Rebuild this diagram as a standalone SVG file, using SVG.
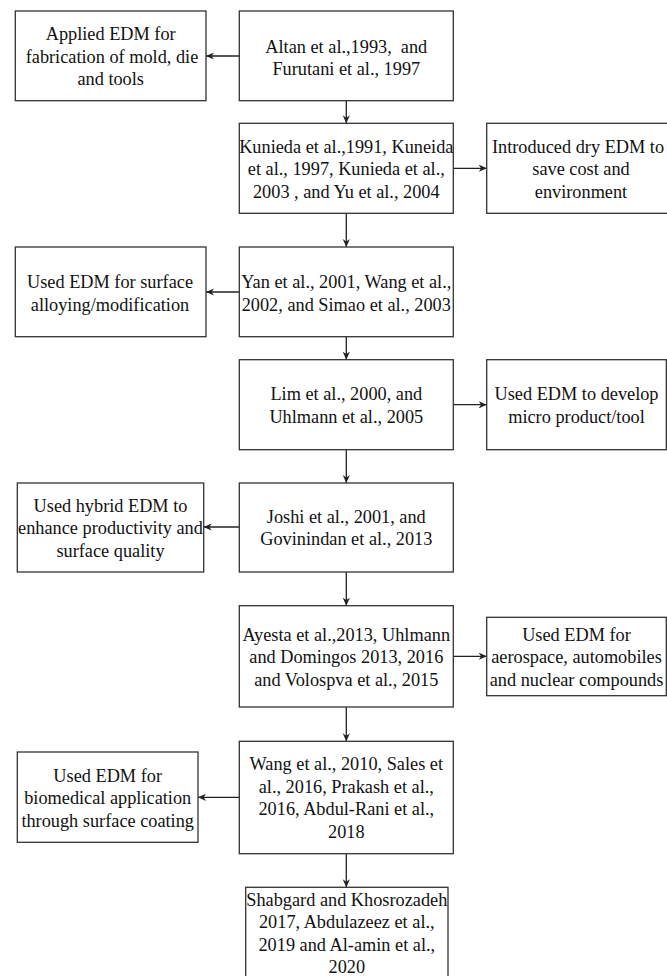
<svg xmlns="http://www.w3.org/2000/svg" width="667" height="976" viewBox="0 0 667 976">
<style>
.box{fill:#fff;stroke:#333;stroke-width:1.3}
.t{font-family:"Liberation Serif","Times New Roman",serif;font-size:18.3px;fill:#111;text-anchor:middle;white-space:pre}
.c{fill:none;stroke:#222;stroke-width:1.3;marker-end:url(#ah)}
</style>
<defs>
<marker id="ah" viewBox="0 0 10 10" refX="10" refY="5" markerWidth="8" markerHeight="8" markerUnits="userSpaceOnUse" orient="auto">
<path d="M0,0.5 L10,5 L0,9.5 L3,5 Z" fill="#222"/>
</marker>
</defs>
<rect width="667" height="976" fill="#fff"/>
<g id="connectors">
<line class="c" x1="239.3" y1="56" x2="206" y2="56"/>
<line class="c" x1="346.3" y1="100.7" x2="346.3" y2="123.3"/>
<line class="c" x1="453.3" y1="168.3" x2="486.7" y2="168.3"/>
<line class="c" x1="346.3" y1="213.3" x2="346.3" y2="247"/>
<line class="c" x1="239.3" y1="292" x2="206" y2="292"/>
<line class="c" x1="346.3" y1="336.7" x2="346.3" y2="359.7"/>
<line class="c" x1="453.3" y1="404.7" x2="486.7" y2="404.7"/>
<line class="c" x1="346.3" y1="449.7" x2="346.3" y2="483"/>
<line class="c" x1="239.3" y1="527" x2="203.7" y2="527"/>
<line class="c" x1="346.3" y1="572" x2="346.3" y2="605.7"/>
<line class="c" x1="453.3" y1="656.3" x2="486.7" y2="656.3"/>
<line class="c" x1="346.3" y1="707" x2="346.3" y2="741.3"/>
<line class="c" x1="239.3" y1="797.3" x2="198" y2="797.3"/>
<line class="c" x1="346.3" y1="853.7" x2="346.3" y2="887.3"/>
</g>
<g id="n-applied">
<rect class="box" x="15.3" y="11" width="190.7" height="89.7"/>
<text class="t" x="110.7" y="40">Applied EDM for</text>
<text class="t" x="112" y="62.5">fabrication of mold, die</text>
<text class="t" x="110.7" y="85">and tools</text>
</g>
<g id="n-altan">
<rect class="box" x="239.3" y="11" width="214" height="89.7"/>
<text class="t" x="346.3" y="52.5" xml:space="preserve">Altan et al.,1993,  and</text>
<text class="t" x="346.3" y="75">Furutani et al., 1997</text>
</g>
<g id="n-kunieda">
<rect class="box" x="239.3" y="123.3" width="214" height="90"/>
<text class="t" x="346.3" y="152.5">Kunieda et al.,1991, Kuneida</text>
<text class="t" x="346.3" y="175">et al., 1997, Kunieda et al.,</text>
<text class="t" x="346.3" y="197.5">2003 , and Yu et al., 2004</text>
</g>
<g id="n-dry">
<rect class="box" x="486.7" y="123.3" width="190" height="90"/>
<text class="t" x="578" y="152.5">Introduced dry EDM to</text>
<text class="t" x="581" y="175">save cost and</text>
<text class="t" x="581" y="197.5">environment</text>
</g>
<g id="n-yan">
<rect class="box" x="239.3" y="247" width="214" height="89.7"/>
<text class="t" x="346.3" y="288">Yan et al., 2001, Wang et al.,</text>
<text class="t" x="346.3" y="310.5">2002, and Simao et al., 2003</text>
</g>
<g id="n-surface">
<rect class="box" x="15.3" y="247" width="190.7" height="89.7"/>
<text class="t" x="110" y="288">Used EDM for surface</text>
<text class="t" x="110" y="310.5">alloying/modification</text>
</g>
<g id="n-lim">
<rect class="box" x="239.3" y="359.7" width="214" height="90"/>
<text class="t" x="346.3" y="400">Lim et al., 2000, and</text>
<text class="t" x="346.3" y="422.5">Uhlmann et al., 2005</text>
</g>
<g id="n-micro">
<rect class="box" x="486.7" y="359.7" width="179.6" height="90"/>
<text class="t" x="576.5" y="400">Used EDM to develop</text>
<text class="t" x="576.5" y="422.5">micro product/tool</text>
</g>
<g id="n-joshi">
<rect class="box" x="239.3" y="483" width="214" height="89"/>
<text class="t" x="346.3" y="522.5">Joshi et al., 2001, and</text>
<text class="t" x="346.3" y="545">Govinindan et al., 2013</text>
</g>
<g id="n-hybrid">
<rect class="box" x="17.3" y="483" width="186.4" height="89"/>
<text class="t" x="110.5" y="511.5">Used hybrid EDM to</text>
<text class="t" x="110.5" y="534">enhance productivity and</text>
<text class="t" x="110.5" y="556.5">surface quality</text>
</g>
<g id="n-ayesta">
<rect class="box" x="239.3" y="605.7" width="214" height="101.3"/>
<text class="t" x="346.3" y="640.5">Ayesta et al.,2013, Uhlmann</text>
<text class="t" x="346.3" y="663">and Domingos 2013, 2016</text>
<text class="t" x="346.3" y="685.5">and Volospva et al., 2015</text>
</g>
<g id="n-aero">
<rect class="box" x="486.7" y="617.3" width="179.6" height="78.4"/>
<text class="t" x="576.5" y="640.5">Used EDM for</text>
<text class="t" x="576.5" y="663">aerospace, automobiles</text>
<text class="t" x="576.5" y="685.5">and nuclear compounds</text>
</g>
<g id="n-wang">
<rect class="box" x="239.3" y="741.3" width="214" height="112.4"/>
<text class="t" x="346.3" y="770.3">Wang et al., 2010, Sales et</text>
<text class="t" x="346.3" y="792.8">al., 2016, Prakash et al.,</text>
<text class="t" x="346.3" y="815.3">2016, Abdul-Rani et al.,</text>
<text class="t" x="346.3" y="837.8">2018</text>
</g>
<g id="n-bio">
<rect class="box" x="17.3" y="752" width="180.7" height="90.3"/>
<text class="t" x="107.7" y="781.5">Used EDM for</text>
<text class="t" x="107.7" y="804">biomedical application</text>
<text class="t" x="107.7" y="826.5">through surface coating</text>
</g>
<g id="n-shabgard">
<rect class="box" x="245.7" y="887.3" width="202.3" height="95"/>
<text class="t" x="346.8" y="905.5">Shabgard and Khosrozadeh</text>
<text class="t" x="346.8" y="928">2017, Abdulazeez et al.,</text>
<text class="t" x="346.8" y="950.5">2019 and Al-amin et al.,</text>
<text class="t" x="346.8" y="973">2020</text>
</g>
</svg>
